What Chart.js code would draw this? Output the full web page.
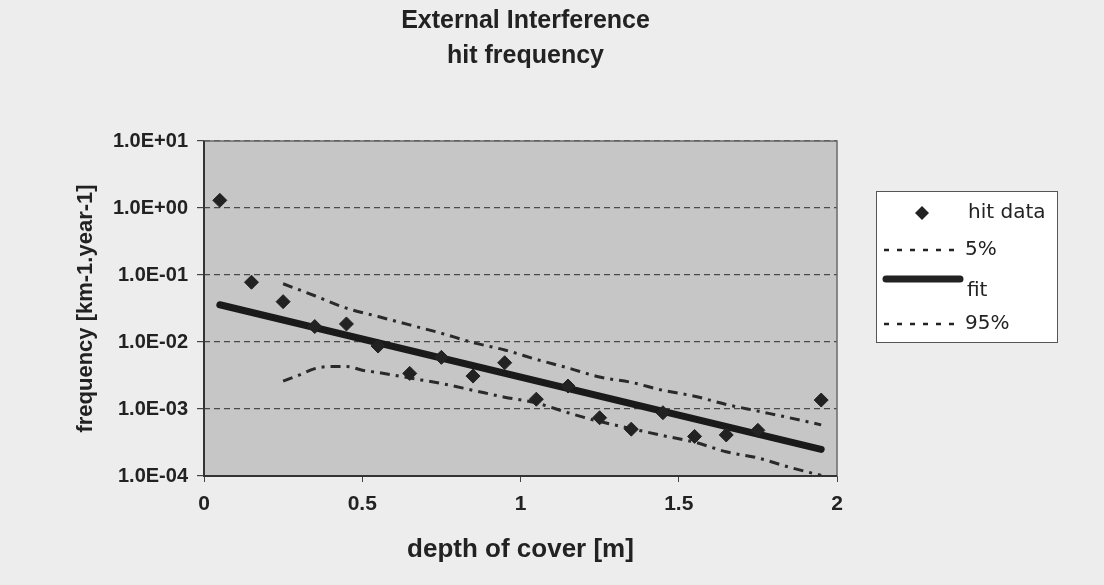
<!DOCTYPE html>
<html>
<head>
<meta charset="utf-8">
<script src="https://cdn.jsdelivr.net/npm/chart.js@4/dist/chart.umd.min.js"></script>
<style>
  html, body { margin: 0; padding: 0; background: #ededed; }
  #wrap { width: 1104px; height: 585px; }
</style>
</head>
<body>
<div id="wrap"><canvas id="chart" width="1104" height="585"></canvas></div>
<script>
// title and axis text
const titleLines = ['External Interference', 'hit frequency'];
const xTitle = 'depth of cover [m]';
const yTitle = 'frequency [km-1.year-1]';

// ticks
const xTickValues = [0, 0.5, 1, 1.5, 2];
const xTickLabels = ['0', '0.5', '1', '1.5', '2'];
const yTickValues = [1e-4, 1e-3, 1e-2, 1e-1, 1, 10];
const yTickLabels = ['1.0E-04', '1.0E-03', '1.0E-02', '1.0E-01', '1.0E+00', '1.0E+01'];

// hit data
const hitDepth = [0.05, 0.15, 0.25, 0.35, 0.45, 0.55, 0.65, 0.75, 0.85, 0.95,
                  1.05, 1.15, 1.25, 1.35, 1.45, 1.55, 1.65, 1.75, 1.95];
const hitFreq = [1.3, 0.078, 0.040, 0.017, 0.0186, 0.0087, 0.0034, 0.0059, 0.0031, 0.0049,
                 0.0014, 0.0022, 0.00074, 0.00050, 0.00088, 0.00039, 0.00041, 0.00048, 0.00136];

// fitted line
const fitDepth = [0.05, 1.95];
const fitFreq = [0.036, 0.00025];

// 5% band (lower curve)
const lowDepth = [0.25, 0.30, 0.35, 0.40, 0.45, 0.50, 0.55, 0.65, 0.75, 0.85, 0.95,
                  1.05, 1.15, 1.25, 1.35, 1.45, 1.55, 1.65, 1.75, 1.85, 1.95];
const lowFreq = [0.0026, 0.0032, 0.0040, 0.0043, 0.0043, 0.0038, 0.0035, 0.0029, 0.0024, 0.0019, 0.0015,
                 0.00123, 0.00088, 0.00065, 0.00051, 0.00040, 0.00032, 0.00023, 0.000186, 0.000135, 0.000102];

// 95% band (upper curve)
const highDepth = [0.25, 0.35, 0.45, 0.55, 0.65, 0.75, 0.85, 0.95, 1.05, 1.15,
                   1.25, 1.35, 1.45, 1.55, 1.65, 1.75, 1.85, 1.95];
const highFreq = [0.074, 0.049, 0.032, 0.024, 0.018, 0.0135, 0.0098, 0.0076, 0.0055, 0.0041,
                  0.0030, 0.0025, 0.0019, 0.00155, 0.00117, 0.00093, 0.00074, 0.00058];

const ink = '#222222';
const pairs = (xs, ys) => xs.map((x, i) => ({ x, y: ys[i] }));

// grey plot area, frame, two-line title and boxed legend
const scanPlugin = {
  id: 'scan',
  beforeDraw(chart) {
    const { ctx, chartArea: a } = chart;
    ctx.save();
    ctx.fillStyle = '#c6c6c6';
    ctx.fillRect(a.left, a.top, a.right - a.left, a.bottom - a.top);
    ctx.restore();
  },
  beforeDatasetsDraw(chart) {
    const { ctx, chartArea: a } = chart;
    ctx.save();
    ctx.strokeStyle = '#6a6a6a';
    ctx.lineWidth = 1.5;
    ctx.strokeRect(a.left, a.top, a.right - a.left, a.bottom - a.top);
    ctx.strokeStyle = '#333';
    ctx.lineWidth = 2;
    ctx.beginPath();
    ctx.moveTo(a.left, a.top);
    ctx.lineTo(a.left, a.bottom);
    ctx.lineTo(a.right, a.bottom);
    ctx.stroke();
    ctx.restore();
  },
  afterDraw(chart) {
    const { ctx, chartArea: a } = chart;
    const ds = chart.data.datasets;
    ctx.save();

    // title
    ctx.fillStyle = ink;
    ctx.font = 'bold 25px "Liberation Sans", Arial, sans-serif';
    ctx.textAlign = 'center';
    ctx.textBaseline = 'middle';
    const cx = (a.left + a.right) / 2 + 5;
    titleLines.forEach((t, i) => ctx.fillText(t, cx, 21 + i * 35));

    // legend
    const bx = a.right + 39, by = a.top + 50, bw = 181, bh = 151;
    ctx.fillStyle = '#ffffff';
    ctx.fillRect(bx, by, bw, bh);
    ctx.strokeStyle = '#555';
    ctx.lineWidth = 1;
    ctx.strokeRect(bx + 0.5, by + 0.5, bw, bh);

    const rows = [22, 59, 88, 133];
    ctx.font = '20px "DejaVu Sans", sans-serif';
    ctx.textAlign = 'left';
    ds.forEach((d, i) => {
      const y = by + rows[i];
      ctx.fillStyle = ink;
      ctx.strokeStyle = ink;
      if (i === 0) {
        ctx.beginPath();
        ctx.moveTo(bx + 46, y - 7);
        ctx.lineTo(bx + 53, y);
        ctx.lineTo(bx + 46, y + 7);
        ctx.lineTo(bx + 39, y);
        ctx.closePath();
        ctx.fill();
        ctx.fillText(d.label, bx + 92, y);
      } else if (i === 2) {
        ctx.lineWidth = 7;
        ctx.lineCap = 'round';
        ctx.setLineDash([]);
        ctx.beginPath();
        ctx.moveTo(bx + 10, y);
        ctx.lineTo(bx + 84, y);
        ctx.stroke();
        ctx.fillText(d.label, bx + 91, y + 12);
      } else {
        ctx.lineWidth = 2.5;
        ctx.lineCap = 'butt';
        ctx.setLineDash([5, 8]);
        ctx.beginPath();
        ctx.moveTo(bx + 8, y);
        ctx.lineTo(bx + 85, y);
        ctx.stroke();
        ctx.setLineDash([]);
        ctx.fillText(d.label, bx + 89, y);
      }
    });
    ctx.restore();
  }
};

const bandStyle = {
  showLine: true,
  pointRadius: 0,
  borderColor: '#2a2a2a',
  borderWidth: 3,
  borderDash: [10, 6, 3, 6],
  cubicInterpolationMode: 'monotone',
  fill: false
};

new Chart(document.getElementById('chart'), {
  type: 'scatter',
  data: {
    datasets: [
      {
        label: 'hit data',
        data: pairs(hitDepth, hitFreq),
        pointStyle: 'rectRot',
        pointRadius: 7,
        pointBackgroundColor: ink,
        pointBorderColor: ink,
        pointBorderWidth: 1,
        showLine: false,
        order: 0
      },
      Object.assign({ label: '5%', data: pairs(lowDepth, lowFreq), order: 2 }, bandStyle),
      {
        label: 'fit',
        data: pairs(fitDepth, fitFreq),
        showLine: true,
        pointRadius: 0,
        borderColor: '#1a1a1a',
        borderWidth: 7,
        borderCapStyle: 'round',
        order: 1
      },
      Object.assign({ label: '95%', data: pairs(highDepth, highFreq), order: 2 }, bandStyle)
    ]
  },
  options: {
    responsive: false,
    animation: false,
    layout: { padding: { top: 141, right: 267, left: 73, bottom: 20 } },
    plugins: {
      legend: { display: false },
      title: { display: false },
      tooltip: { enabled: false }
    },
    scales: {
      x: {
        type: 'linear',
        min: 0,
        max: 2,
        afterBuildTicks: (s) => { s.ticks = xTickValues.map((v) => ({ value: v })); },
        afterFit: (s) => { s.height = 89; },
        ticks: {
          callback: (v, i) => xTickLabels[i],
          color: ink,
          padding: 10,
          maxRotation: 0,
          font: { family: '"Liberation Sans Narrow", "Liberation Sans", Arial', size: 21, weight: 'bold' }
        },
        grid: { drawOnChartArea: false, drawTicks: true, tickLength: 6, tickColor: '#444', color: '#444' },
        border: { display: false },
        title: {
          display: true,
          text: xTitle,
          color: ink,
          padding: 0,
          font: { family: '"Liberation Sans", Arial', size: 26, weight: 'bold' }
        }
      },
      y: {
        type: 'logarithmic',
        min: 1e-4,
        max: 10,
        afterBuildTicks: (s) => { s.ticks = yTickValues.map((v) => ({ value: v })); },
        afterFit: (s) => { s.width = 131; },
        ticks: {
          callback: (v, i) => yTickLabels[i],
          color: ink,
          padding: 9,
          font: { family: '"Liberation Sans", Arial', size: 20, weight: 'bold' }
        },
        grid: { color: '#4a4a4a', lineWidth: 1.2, tickLength: 7, tickColor: '#444' },
        border: { display: false, dash: [6, 4] },
        title: {
          display: true,
          text: yTitle,
          color: ink,
          padding: 0,
          font: { family: '"Liberation Sans", Arial', size: 22, weight: 'bold' }
        }
      }
    }
  },
  plugins: [scanPlugin]
});
</script>
</body>
</html>
